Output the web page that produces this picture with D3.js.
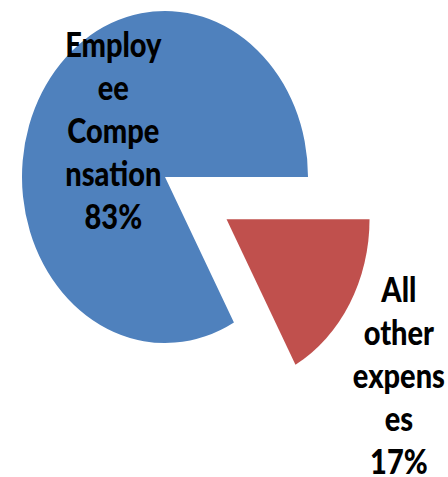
<!DOCTYPE html>
<html>
<head>
<meta charset="utf-8">
<script src="https://cdn.jsdelivr.net/npm/d3@7"></script>
<style>
  body { margin: 0; background: #fff; }
  text { font-family: Lato, "Open Sans", sans-serif; font-weight: 900; fill: #000; }
</style>
</head>
<body>
<div id="chart"></div>
<script>
// chart data
var categories = ["Employee Compensation", "All other expenses"];
var values = [83, 17];
var percentLabels = ["83%", "17%"];
// how the category names wrap in the picture
var labelLines = [["Employ", "ee", "Compe", "nsation"], ["All", "other", "expens", "es"]];
var colors = ["#4F81BD", "#C0504D"];

var width = 448, height = 477;
var cx = 165, cy = 177;      // pie centre
var rx = 143, ry = 166;      // the picture is stretched vertically
var explode = [0, 0.5];      // share of radius each slice is pulled out
var lineHeight = 43;
var fontSize = 29;

var svg = d3.select('#chart').append('svg')
    .attr('width', width)
    .attr('height', height);

var total = d3.sum(values);
// red slice starts at 3 o'clock, so the blue one starts after it
var start = Math.PI / 2 + 2 * Math.PI * values[1] / total;

var pie = d3.pie()
    .sort(null)
    .startAngle(start)
    .endAngle(start + 2 * Math.PI);

var arcs = pie(values);
var arc = d3.arc().innerRadius(0).outerRadius(1);

var g = svg.append('g')
    .attr('transform', 'translate(' + cx + ',' + cy + ') scale(' + rx + ',' + ry + ')');

function offset(d, k) {
    var mid = (d.startAngle + d.endAngle) / 2;
    return [Math.sin(mid) * k, -Math.cos(mid) * k];
}

g.selectAll('path')
    .data(arcs)
    .enter()
    .append('path')
    .attr('d', arc)
    .attr('fill', function(d, i) { return colors[i]; })
    .attr('transform', function(d, i) {
        var o = offset(d, explode[i]);
        return 'translate(' + o[0] + ',' + o[1] + ')';
    });

// label anchors along each slice's middle angle (radius in unit ellipse)
var labelRadius = [0.42, 1.90];
var labelShift = [-0.51, -0.217];   // first baseline above the anchor, in radii

var labels = svg.selectAll('g.label')
    .data(arcs)
    .enter()
    .append('g')
    .attr('class', 'label')
    .attr('transform', function(d, i) {
        var o = offset(d, labelRadius[i]);
        var x = cx + o[0] * rx;
        var y = cy + (o[1] + labelShift[i]) * ry;
        return 'translate(' + x + ',' + y + ') scale(1,1.16)';
    });

labels.append('text')
    .attr('text-anchor', 'middle')
    .style('font-size', fontSize + 'px')
    .selectAll('tspan')
    .data(function(d, i) { return labelLines[i].concat([percentLabels[i]]); })
    .enter()
    .append('tspan')
    .attr('x', 0)
    .attr('dy', function(d, j) { return j === 0 ? 0 : lineHeight / 1.16; })
    .text(function(d) { return d; });
</script>
</body>
</html>
